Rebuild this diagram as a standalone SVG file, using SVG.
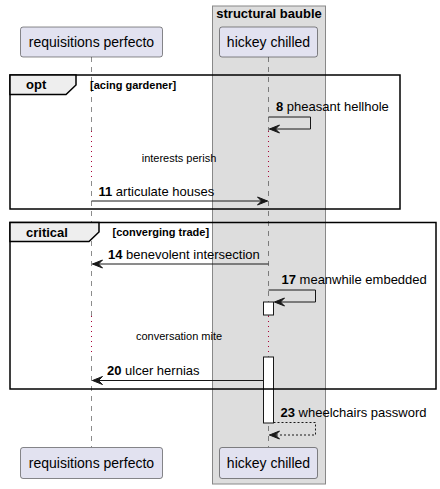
<svg xmlns="http://www.w3.org/2000/svg" width="440" height="489" viewBox="0 0 440 489">
<defs>
<style>
.part{fill:#E2E2F0;stroke:#181818;stroke-width:0.5}
.ptxt{font-family:"Liberation Sans",Arial,sans-serif;font-size:14px;fill:#000}
.life{stroke:#181818;stroke-width:0.5;stroke-dasharray:5,5}
.delay{stroke:#A80036;stroke-width:1;stroke-dasharray:1,4}
.msg{stroke:#181818;stroke-width:1;fill:none}
.dash{stroke-dasharray:2,2}
.head{fill:#181818;stroke:#181818}
.mtxt{font-family:"Liberation Sans",Arial,sans-serif;font-size:13px;fill:#000}
.num{font-weight:bold}
.frame{fill:none;stroke:#000;stroke-width:1.5}
.tab{fill:#EEEEEE;stroke:#000;stroke-width:1.5}
.ftxt{font-family:"Liberation Sans",Arial,sans-serif;font-size:13px;font-weight:bold}
.gtxt{font-family:"Liberation Sans",Arial,sans-serif;font-size:11px;font-weight:bold}
.dtxt{font-family:"Liberation Sans",Arial,sans-serif;font-size:11px}
.act{fill:#FFFFFF;stroke:#181818;stroke-width:1}
</style>
</defs>
<rect width="440" height="489" fill="#FFFFFF"/>
<g id="box-structural-bauble">
<rect x="212.5" y="6" width="113" height="478" fill="#DDDDDD" stroke="#888888" stroke-width="1"/>
<text x="269" y="18" text-anchor="middle" class="ftxt">structural bauble</text>
</g>
<g id="lifelines">
<line class="life" x1="91.5" y1="57" x2="91.5" y2="131"/>
<line class="life" x1="91.5" y1="181" x2="91.5" y2="316"/>
<line class="life" x1="91.5" y1="356" x2="91.5" y2="447"/>
<line class="life" x1="268.5" y1="57" x2="268.5" y2="131"/>
<line class="life" x1="268.5" y1="181" x2="268.5" y2="316"/>
<line class="life" x1="268.5" y1="356" x2="268.5" y2="447"/>
</g>
<g id="delays">
<line class="delay" x1="91.5" y1="131" x2="91.5" y2="181"/>
<line class="delay" x1="268.5" y1="131" x2="268.5" y2="181"/>
<text x="179" y="162" text-anchor="middle" class="dtxt">interests perish</text>
<line class="delay" x1="91.5" y1="316" x2="91.5" y2="356"/>
<line class="delay" x1="268.5" y1="316" x2="268.5" y2="356"/>
<text x="179" y="340" text-anchor="middle" class="dtxt">conversation mite</text>
</g>
<g id="participant-requisitions-perfecto">
<rect class="part" x="20.5" y="27" width="142" height="30" rx="2.5"/>
<text x="91.5" y="47" text-anchor="middle" class="ptxt">requisitions perfecto</text>
<rect class="part" x="20.5" y="447.5" width="142" height="31" rx="2.5"/>
<text x="91.5" y="468" text-anchor="middle" class="ptxt">requisitions perfecto</text>
</g>
<g id="participant-hickey-chilled">
<rect class="part" x="219.5" y="27" width="98" height="30" rx="2.5"/>
<text x="268.5" y="47" text-anchor="middle" class="ptxt">hickey chilled</text>
<rect class="part" x="219.5" y="447.5" width="98" height="31" rx="2.5"/>
<text x="268.5" y="468" text-anchor="middle" class="ptxt">hickey chilled</text>
</g>
<g id="activations">
<rect class="act" x="263.5" y="302" width="10" height="13"/>
<rect class="act" x="263.5" y="357" width="10" height="66"/>
</g>
<g id="frame-opt">
<rect class="frame" x="10" y="75" width="390" height="134"/>
<path class="tab" d="M10,75 H76 V85 L66,94.5 H10 Z"/>
<text x="26" y="89" class="ftxt">opt</text>
<text x="90" y="89" class="gtxt">[acing gardener]</text>
</g>
<g id="frame-critical">
<rect class="frame" x="10" y="222.5" width="426" height="166.5"/>
<path class="tab" d="M10,222.5 H99 V232 L89,241.5 H10 Z"/>
<text x="26" y="237" class="ftxt">critical</text>
<text x="112.5" y="236" class="gtxt">[converging trade]</text>
</g>
<g id="connectors">
<g id="msg-8">
<path class="msg" d="M268.5,117 H310.5 V129 H269.5"/>
<polygon class="head" points="269.5,129 279.5,125 275.5,129 279.5,133"/>
<text x="276" y="111" class="mtxt"><tspan class="num">8</tspan> pheasant hellhole</text>
</g>
<g id="msg-11">
<line class="msg" x1="91.5" y1="201" x2="267.5" y2="201"/>
<polygon class="head" points="267.5,201 257.5,197 261.5,201 257.5,205"/>
<text x="98.5" y="196" class="mtxt"><tspan class="num">11</tspan> articulate houses</text>
</g>
<g id="msg-14">
<line class="msg" x1="268.5" y1="264" x2="92.5" y2="264"/>
<polygon class="head" points="92.5,264 102.5,260 98.5,264 102.5,268"/>
<text x="108" y="259" class="mtxt"><tspan class="num">14</tspan> benevolent intersection</text>
</g>
<g id="msg-17">
<path class="msg" d="M268.5,290 H315.5 V302 H274.5"/>
<polygon class="head" points="274.5,302 284.5,298 280.5,302 284.5,306"/>
<text x="281.5" y="284" class="mtxt"><tspan class="num">17</tspan> meanwhile embedded</text>
</g>
<g id="msg-20">
<line class="msg" x1="263.5" y1="380.5" x2="92.5" y2="380.5"/>
<polygon class="head" points="92.5,380.5 102.5,376.5 98.5,380.5 102.5,384.5"/>
<text x="107" y="375" class="mtxt"><tspan class="num">20</tspan> ulcer hernias</text>
</g>
<g id="msg-23">
<path class="msg dash" d="M273.5,422.5 H315.5 V435 H269.5"/>
<polygon class="head" points="269.5,435 279.5,431 275.5,435 279.5,439"/>
<text x="280.5" y="417" class="mtxt"><tspan class="num">23</tspan> wheelchairs password</text>
</g>
</g>
</svg>
